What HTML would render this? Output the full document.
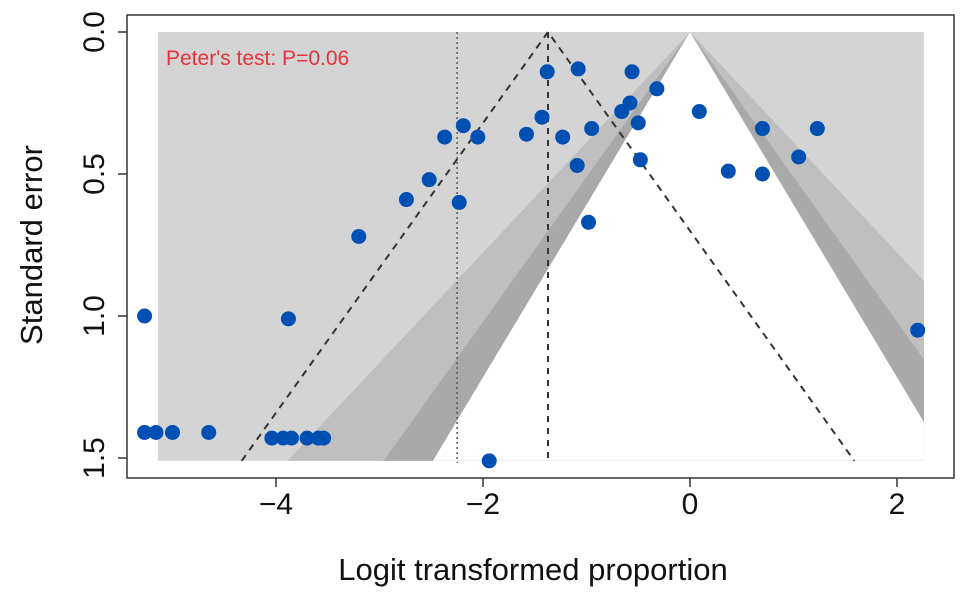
<!DOCTYPE html>
<html><head><meta charset="utf-8"><style>
body{margin:0;background:#fff;}
svg{display:block;font-family:"Liberation Sans",Arial,sans-serif;}
</style></head><body>
<svg id="chart" width="969" height="601" viewBox="0 0 969 601">
<defs><clipPath id="clipG"><rect id="clipRect" x="0" y="0" width="0" height="0"/></clipPath></defs>
<g id="contours" clip-path="url(#clipG)"></g>
<g id="guides"></g>
<g id="points"></g>
<rect x="127" y="15" width="827" height="463" fill="none" stroke="#333" stroke-width="1.5"/>
<g id="axes"></g>
<text x="166" y="65" font-size="21" fill="#e8323c">Peter's test: P=0.06</text>
<text x="533" y="580" font-size="31" text-anchor="middle" fill="#111">Logit transformed proportion</text>
<text transform="translate(42,245) rotate(-90)" font-size="31" text-anchor="middle" fill="#111">Standard error</text>
</svg>
<script>
const xVals=[-1.38,-1.08,-1.43,-0.95,-2.19,-2.37,-2.05,-1.58,-1.23,-1.09,-2.52,-2.74,-2.23,-3.20,-0.98,-0.56,-0.32,-0.58,-0.66,-0.50,-0.48,0.09,0.70,1.23,1.05,0.37,0.70,2.20,-5.27,-3.88,-5.27,-5.16,-5.0,-4.65,-4.04,-3.93,-3.85,-3.70,-3.59,-3.54,-1.94];
const seVals=[0.14,0.13,0.30,0.34,0.33,0.37,0.37,0.36,0.37,0.47,0.52,0.59,0.60,0.72,0.67,0.14,0.20,0.25,0.28,0.32,0.45,0.28,0.34,0.34,0.44,0.49,0.50,1.05,1.00,1.01,1.41,1.41,1.41,1.41,1.43,1.43,1.43,1.43,1.43,1.43,1.51];
const xTicks=[-4,-2,0,2];
const yTicks=[0,0.5,1.0,1.5];
const yTickLabels=["0.0","0.5","1.0","1.5"];
const pooled=-1.372, meanLine=-2.25, seMax=1.51, xMin=-5.14, xMax=2.26;
const zLevels=[2.576,1.96,1.645];
const zColors=["#bfbfbf","#a9a9a9","#ffffff"];
const NS="http://www.w3.org/2000/svg";
const sx=v=>690+v*103.5, sy=v=>32+v*284;
function mk(t,a,p){const e=document.createElementNS(NS,t);for(const k in a)e.setAttribute(k,a[k]);p.appendChild(e);return e;}
const cr=document.getElementById('clipRect');
cr.setAttribute('x',sx(xMin));cr.setAttribute('y',sy(0));cr.setAttribute('width',sx(xMax)-sx(xMin));cr.setAttribute('height',sy(seMax)-sy(0));
const cg=document.getElementById('contours');
const bg=mk('rect',{x:sx(xMin),y:sy(0),width:sx(xMax)-sx(xMin),height:sy(seMax)-sy(0),fill:'#d4d4d4'},cg);


zLevels.forEach((z,i)=>{
 const p=mk('polygon',{points:`${sx(0)},${sy(0)} ${sx(-z*seMax)},${sy(seMax)} ${sx(z*seMax)},${sy(seMax)}`,fill:zColors[i]},cg);
 
 
});
const gd=document.getElementById('guides');
const l1=mk('line',{x1:sx(meanLine),y1:sy(0),x2:sx(meanLine),y2:sy(seMax)+2,stroke:'#555','stroke-width':1.5,'stroke-dasharray':'2 3'},gd);


const l2=mk('line',{x1:sx(pooled),y1:sy(0),x2:sx(pooled),y2:sy(seMax),stroke:'#333','stroke-width':2,'stroke-dasharray':'6 6'},gd);


const l3=mk('polyline',{points:`${sx(pooled-1.96*seMax)},${sy(seMax)} ${sx(pooled)},${sy(0)} ${sx(pooled+1.96*seMax)},${sy(seMax)}`,fill:'none',stroke:'#333','stroke-width':2,'stroke-dasharray':'7 6'},gd);


const pg=document.getElementById('points');
xVals.forEach((x,i)=>{
 const c=mk('circle',{cx:sx(x),cy:sy(seVals[i]),r:7.5,fill:'#0050b4'},pg);
 
 
});
const ax=document.getElementById('axes');
xTicks.forEach(t=>{
 const l=mk('line',{x1:sx(t),y1:478,x2:sx(t),y2:487,stroke:'#333','stroke-width':1.5},ax);
 
 
 const tx=mk('text',{x:sx(t),y:514,'font-size':30,'text-anchor':'middle',fill:'#111'},ax);
 tx.textContent=(t<0?'\u2212'+(-t):String(t));
 
 
});
yTicks.forEach((t,i)=>{
 const l=mk('line',{x1:118,y1:sy(t),x2:127,y2:sy(t),stroke:'#333','stroke-width':1.5},ax);
 
 
 const tx=mk('text',{transform:`translate(104,${sy(t)}) rotate(-90)`,'font-size':30,'text-anchor':'middle',fill:'#111'},ax);
 tx.textContent=yTickLabels[i];
 
 
});
</script>
</body></html>
